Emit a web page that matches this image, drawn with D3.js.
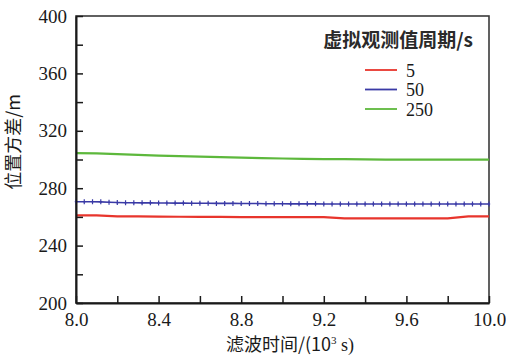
<!DOCTYPE html>
<html>
<head>
<meta charset="utf-8">
<script src="https://cdn.jsdelivr.net/npm/d3@7/dist/d3.min.js"></script>
<style>
  html, body { margin: 0; padding: 0; background: #fff; }
  svg { display: block; }
</style>
</head>
<body>
<svg id="chart" width="506" height="357"></svg>
<script>
// Filter time (10^3 s) for the 5 s and 250 s series, 0.1 step
const timeCoarse = [8.0, 8.1, 8.2, 8.3, 8.4, 8.5, 8.6, 8.7, 8.8, 8.9, 9.0,
                    9.1, 9.2, 9.3, 9.4, 9.5, 9.6, 9.7, 9.8, 9.9, 10.0];
// Filter time for the 50 s series, 0.04 step (one marker per sample)
const timeFine = [8.00, 8.04, 8.08, 8.12, 8.16, 8.20, 8.24, 8.28, 8.32, 8.36,
                  8.40, 8.44, 8.48, 8.52, 8.56, 8.60, 8.64, 8.68, 8.72, 8.76,
                  8.80, 8.84, 8.88, 8.92, 8.96, 9.00, 9.04, 9.08, 9.12, 9.16,
                  9.20, 9.24, 9.28, 9.32, 9.36, 9.40, 9.44, 9.48, 9.52, 9.56,
                  9.60, 9.64, 9.68, 9.72, 9.76, 9.80, 9.84, 9.88, 9.92, 9.96, 10.00];

// Position variance (m) per virtual observation period
const var5 = [261.1, 261.0, 260.4, 260.3, 260.2, 260.1, 260.0, 260.0, 259.9, 259.9, 259.9,
              259.9, 259.9, 259.0, 259.0, 259.0, 259.0, 259.0, 259.0, 260.4, 260.4];
const var50 = [270.6, 270.6, 270.6, 270.5, 270.2, 270.0, 269.9, 269.9, 269.8, 269.8,
               269.7, 269.7, 269.6, 269.6, 269.5, 269.5, 269.5, 269.4, 269.4, 269.4,
               269.3, 269.3, 269.3, 269.2, 269.2, 269.2, 269.1, 269.1, 269.1, 269.1,
               269.0, 269.0, 269.0, 269.0, 269.0, 269.0, 269.0, 269.0, 269.0, 269.0,
               269.0, 269.0, 269.0, 269.0, 269.0, 269.0, 269.0, 269.0, 269.0, 269.0, 269.0];
const var250 = [304.5, 304.2, 303.8, 303.2, 302.7, 302.3, 302.0, 301.6, 301.3, 301.0, 300.7,
                300.5, 300.3, 300.2, 300.1, 299.9, 299.9, 299.9, 299.9, 299.9, 299.9];

const seriesNames = ["5", "50", "250"];
const seriesColors = ["#e8352c", "#3a3aa6", "#5db83c"];
const legendTitle = "虚拟观测值周期/s";

const xTicks = [8.0, 8.2, 8.4, 8.6, 8.8, 9.0, 9.2, 9.4, 9.6, 9.8, 10.0];
const xTickLabels = ["8.0", "", "8.4", "", "8.8", "", "9.2", "", "9.6", "", "10.0"];
const yTicks = [200, 220, 240, 260, 280, 300, 320, 340, 360, 380, 400];
const yTickLabels = ["200", "", "240", "", "280", "", "320", "", "360", "", "400"];

const LATIN = "'Liberation Serif', 'DejaVu Serif', 'Noto Sans', sans-serif";
const CJK = "'Noto Sans CJK SC', sans-serif";

const margin = {left: 76, top: 16, right: 17, bottom: 54};
const W = 506, H = 357;
const svg = d3.select("#chart");
const iw = W - margin.left - margin.right;
const ih = H - margin.top - margin.bottom;
const g = svg.append("g").attr("transform", `translate(${margin.left},${margin.top})`);

const x = d3.scaleLinear().domain([8.0, 10.0]).range([0, iw]);
const y = d3.scaleLinear().domain([200, 400]).range([ih, 0]);

// Plot frame (top and right edges)
g.append("rect").attr("x", 0).attr("y", 0).attr("width", iw).attr("height", ih)
  .attr("fill", "none").attr("stroke", "#3a3a3a").attr("stroke-width", 1.6);

// Series lines
const line = d3.line().x(d => x(d[0])).y(d => y(d[1]));
const data5 = timeCoarse.map((t, i) => [t, var5[i]]);
const data50 = timeFine.map((t, i) => [t, var50[i]]);
const data250 = timeCoarse.map((t, i) => [t, var250[i]]);

g.append("path").datum(data250).attr("d", line).attr("fill", "none")
  .attr("stroke", seriesColors[2]).attr("stroke-width", 2.2);
g.append("path").datum(data50).attr("d", line).attr("fill", "none")
  .attr("stroke", seriesColors[1]).attr("stroke-width", 1.6);
// Small cross markers on the 50 s series
g.selectAll(".m50").data(data50).enter().append("path")
  .attr("class", "m50")
  .attr("d", d => `M${x(d[0])},${y(d[1]) - 2.5}V${y(d[1]) + 2.5}M${x(d[0]) - 1.2},${y(d[1])}H${x(d[0]) + 1.2}`)
  .attr("stroke", seriesColors[1]).attr("stroke-width", 1.2).attr("fill", "none");
g.append("path").datum(data5).attr("d", line).attr("fill", "none")
  .attr("stroke", seriesColors[0]).attr("stroke-width", 2.2);

// Axes with inward ticks
const xAxis = d3.axisBottom(x).tickValues(xTicks)
  .tickFormat((d, i) => xTickLabels[i]).tickSizeInner(-7).tickSizeOuter(0).tickPadding(10);
const yAxis = d3.axisLeft(y).tickValues(yTicks)
  .tickFormat((d, i) => yTickLabels[i]).tickSizeInner(-7).tickSizeOuter(0).tickPadding(9);

const gx = g.append("g").attr("transform", `translate(0,${ih})`).call(xAxis);
const gy = g.append("g").call(yAxis);
[gx, gy].forEach(a => {
  a.attr("font-family", LATIN);
  a.select(".domain").attr("stroke", "#1a1a1a").attr("stroke-width", 2);
  a.selectAll(".tick line").attr("stroke", "#1a1a1a").attr("stroke-width", 1.5);
  a.selectAll(".tick text").attr("fill", "#1a1a1a").attr("font-size", 19);
});

// Axis titles
const xt = svg.append("text")
  .attr("x", 290).attr("y", 351)
  .attr("text-anchor", "middle")
  .attr("font-family", CJK)
  .attr("font-size", 18).attr("fill", "#1a1a1a");
xt.append("tspan").text("滤波时间/(10");
xt.append("tspan").attr("dy", -7).attr("font-size", 11).style("font-family", LATIN).text("3");
xt.append("tspan").attr("dy", 7).style("font-family", LATIN).attr("font-size", 18).text(" s)");

svg.append("text")
  .attr("transform", "translate(20,142) rotate(-90)")
  .attr("text-anchor", "middle")
  .attr("font-family", CJK)
  .attr("font-size", 18).attr("fill", "#1a1a1a")
  .text("位置方差/m");

// Legend
const lg = svg.append("g");
lg.append("text").attr("x", 473).attr("y", 47).attr("text-anchor", "end")
  .attr("font-family", CJK).attr("font-weight", 700)
  .attr("font-size", 19).attr("fill", "#2a2a2a").text(legendTitle);
seriesNames.forEach((name, i) => {
  const yy = 70 + i * 19.5;
  lg.append("line").attr("x1", 365).attr("x2", 397).attr("y1", yy).attr("y2", yy)
    .attr("stroke", seriesColors[i]).attr("stroke-width", 1.8);
  lg.append("text").attr("x", 406).attr("y", yy + 6.5)
    .style("font-family", LATIN).attr("font-size", 18)
    .attr("fill", "#1a1a1a").text(name);
});
</script>
</body>
</html>
